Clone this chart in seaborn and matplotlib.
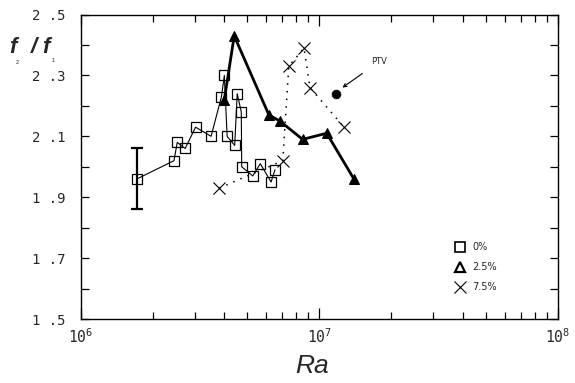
import numpy as np
import pandas as pd
import matplotlib
matplotlib.use("Agg")
import matplotlib.pyplot as plt
from matplotlib.lines import Line2D
from matplotlib.ticker import FixedLocator, FixedFormatter, LogLocator, NullFormatter
import seaborn as sns

# f2/f1 frequency ratio versus Rayleigh number, three concentrations
ra_0 = [1.72e6, 2.46e6, 2.54e6, 2.74e6, 3.03e6, 3.52e6, 3.89e6, 4.00e6, 4.11e6,
        4.42e6, 4.53e6, 4.71e6, 4.73e6, 5.26e6, 5.66e6, 6.28e6, 6.52e6]
ratio_0 = [1.96, 2.02, 2.08, 2.06, 2.13, 2.10, 2.23, 2.30, 2.10,
           2.07, 2.24, 2.18, 2.00, 1.97, 2.01, 1.95, 1.99]

ra_25 = [4.00e6, 4.40e6, 6.15e6, 6.84e6, 8.51e6, 1.074e7, 1.396e7]
ratio_25 = [2.22, 2.43, 2.17, 2.15, 2.09, 2.11, 1.96]

ra_75 = [3.81e6, 7.03e6, 7.45e6, 8.63e6, 9.14e6, 1.27e7]
ratio_75 = [1.93, 2.02, 2.33, 2.39, 2.26, 2.13]

ra_ptv = [1.17e7]
ratio_ptv = [2.24]

err_ra = [1.72e6]
err_ratio = [1.96]
err_size = [0.10]

legend_labels = ["0%", "2.5%", "7.5%"]
y_tick_values = [1.5, 1.7, 1.9, 2.1, 2.3, 2.5]
y_tick_labels = ["1 .5", "1 .7", "1 .9", "2 .1", "2 .3", "2 .5"]
x_tick_values = [1e6, 1e7, 1e8]
x_tick_labels = [r"$\mathtt{10^{6}}$", r"$\mathtt{10^{7}}$", r"$\mathtt{10^{8}}$"]

sns.set_style("ticks")
plt.rcParams["font.family"] = ["DejaVu Sans"]
plt.rcParams["mathtext.fontset"] = "dejavusans"

fig = plt.figure(figsize=(5.75, 3.83), dpi=100)
ax = fig.add_axes([0.1403, 0.1671, 0.8300, 0.7950])

df0 = pd.DataFrame({"Ra": ra_0, "ratio": ratio_0})
df25 = pd.DataFrame({"Ra": ra_25, "ratio": ratio_25})
df75 = pd.DataFrame({"Ra": ra_75, "ratio": ratio_75})
dfp = pd.DataFrame({"Ra": ra_ptv, "ratio": ratio_ptv})

sns.lineplot(data=df75, x="Ra", y="ratio", sort=False, estimator=None, ax=ax,
             color="black", lw=1.1, linestyle=(0, (1, 4)), marker="x",
             markersize=8, markeredgewidth=0.8, markeredgecolor="black")
sns.lineplot(data=df25, x="Ra", y="ratio", sort=False, estimator=None, ax=ax,
             color="black", lw=2.0, marker="^", markersize=7,
             markerfacecolor="black", markeredgecolor="black")
sns.lineplot(data=df0, x="Ra", y="ratio", sort=False, estimator=None, ax=ax,
             color="black", lw=0.8, marker="s", markersize=7.5,
             markerfacecolor="none", markeredgecolor="black", markeredgewidth=0.9)
sns.scatterplot(data=dfp, x="Ra", y="ratio", ax=ax, color="black", s=40,
                edgecolor="black", zorder=5)

ax.errorbar(err_ra, err_ratio, yerr=err_size, fmt="none", ecolor="black",
            elinewidth=1.6, capsize=4.5, capthick=1.6)

ax.annotate("PTV", xy=(1.25e7, 2.26), xytext=(1.78e7, 2.345),
            fontsize=6, ha="center", va="center",
            arrowprops=dict(arrowstyle="->", color="black", lw=0.8,
                            shrinkA=5, shrinkB=0))

ax.set_xscale("log")
ax.set_xlim(1e6, 1e8)
ax.set_ylim(1.5, 2.5)

ax.xaxis.set_major_locator(FixedLocator(x_tick_values))
ax.xaxis.set_major_formatter(FixedFormatter(x_tick_labels))
ax.xaxis.set_minor_locator(LogLocator(base=10, subs=np.arange(2, 10), numticks=20))
ax.xaxis.set_minor_formatter(NullFormatter())

ax.yaxis.set_major_locator(FixedLocator(y_tick_values))
ax.yaxis.set_major_formatter(FixedFormatter(y_tick_labels))
ax.yaxis.set_minor_locator(FixedLocator([1.6, 1.8, 2.0, 2.2, 2.4]))

ax.tick_params(axis="both", which="both", direction="in", top=True, right=True,
               color="black", width=0.9)
ax.tick_params(axis="y", which="both", length=6)
ax.tick_params(axis="x", which="major", length=8)
ax.tick_params(axis="x", which="minor", length=5)
ax.tick_params(axis="y", which="major", pad=11)
ax.tick_params(axis="x", which="major", pad=6)
for lab in ax.get_yticklabels():
    lab.set_family("DejaVu Sans Mono")
    lab.set_fontsize(10)
for lab in ax.get_xticklabels():
    lab.set_fontsize(10.5)
for sp in ax.spines.values():
    sp.set_linewidth(1.0)
    sp.set_color("black")

ax.set_xlabel("")
ax.set_ylabel("")
fig.text(0.543, 0.045, "Ra", fontsize=19, style="italic", ha="center",
         va="center", family="Liberation Sans")

# y label f2/f1
fig.text(0.016, 0.875, "f", fontsize=16, style="italic", weight="bold",
         family="Liberation Sans", ha="left", va="center")
fig.text(0.028, 0.836, "2", fontsize=4, family="Liberation Sans",
         ha="left", va="center")
fig.text(0.054, 0.875, "/", fontsize=16, style="italic", weight="bold",
         family="Liberation Sans", ha="left", va="center")
fig.text(0.074, 0.875, "f", fontsize=16, style="italic", weight="bold",
         family="Liberation Sans", ha="left", va="center")
fig.text(0.090, 0.843, "1", fontsize=4, family="Liberation Sans",
         ha="left", va="center")

handles = [
    Line2D([], [], linestyle="none", marker="s", markersize=7,
           markerfacecolor="none", markeredgecolor="black", markeredgewidth=1.2),
    Line2D([], [], linestyle="none", marker="^", markersize=7,
           markerfacecolor="none", markeredgecolor="black", markeredgewidth=1.6),
    Line2D([], [], linestyle="none", marker="x", markersize=9,
           markeredgecolor="black", markeredgewidth=0.8),
]
ax.legend(handles, legend_labels, loc="upper left", bbox_to_anchor=(0.77, 0.275),
          frameon=False, fontsize=7, handlelength=1.0, handletextpad=0.8,
          labelspacing=1.05, borderpad=0.2)

fig.savefig("out.png", dpi=100)
